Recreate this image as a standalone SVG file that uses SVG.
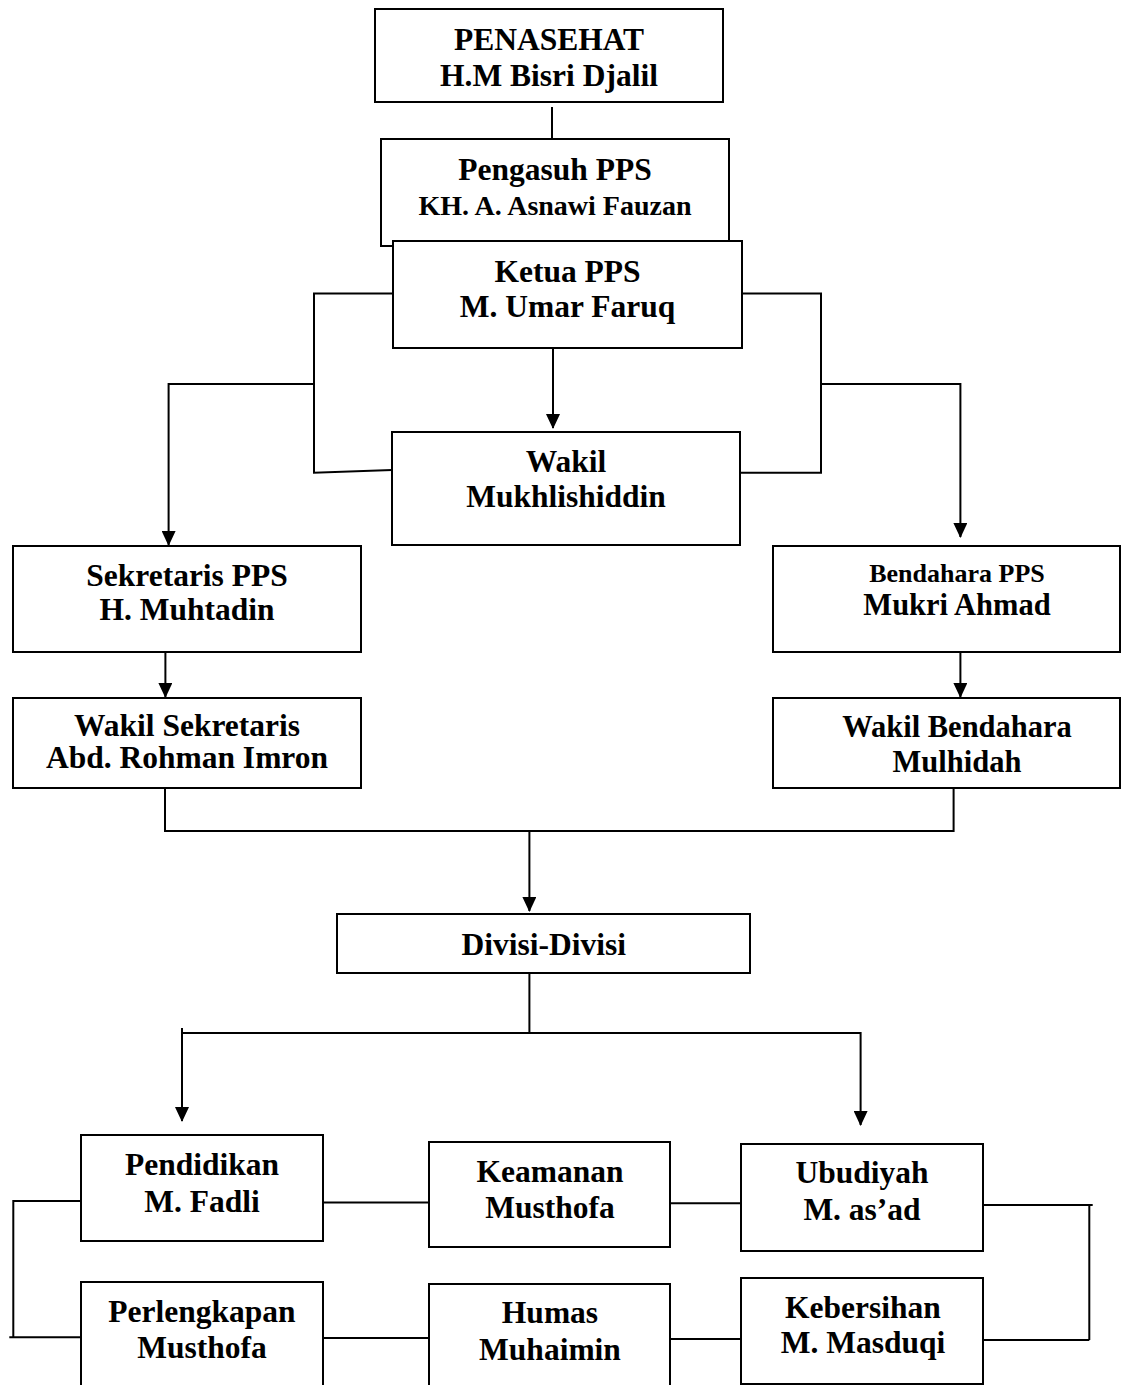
<svg xmlns="http://www.w3.org/2000/svg" width="1122" height="1385" viewBox="0 0 1122 1385">
<style>
.box{fill:#fff;stroke:#000;stroke-width:2}
.ln{fill:none;stroke:#000;stroke-width:2}
.arr{fill:none;stroke:#000;stroke-width:2;marker-end:url(#ah)}
text{font-family:"Liberation Serif","Times New Roman",serif;font-weight:bold;font-size:31.5px;text-anchor:middle;fill:#000}
</style>
<defs>
<marker id="ah" viewBox="0 0 15 14" refX="14" refY="7" markerWidth="15" markerHeight="14" markerUnits="userSpaceOnUse" orient="auto">
<path d="M0,0 L15,7 L0,14 z" fill="#000"/>
</marker>
</defs>
<rect width="1122" height="1385" fill="#fff"/>
<g id="connectors">
<path class="ln" d="M552,107 V139"/>
<path class="ln" d="M393,293.5 H314 V472.7 L392,470"/>
<path class="arr" d="M314,384 H168.6 V545"/>
<path class="ln" d="M742,293.5 H821 V472.7 H740"/>
<path class="arr" d="M821,384 H960.4 V537"/>
<path class="arr" d="M553,348 V428"/>
<path class="arr" d="M165.4,652 V697"/>
<path class="arr" d="M960.4,652 V697"/>
<path class="ln" d="M165,788 V831 H953.6 V788"/>
<path class="arr" d="M529.4,831 V911"/>
<path class="ln" d="M529.4,973 V1033"/>
<path class="arr" d="M182,1028 V1121"/>
<path class="arr" d="M182,1033 H860.6 V1125"/>
<path class="ln" d="M81,1201 H13.3 V1337.3"/>
<path class="ln" d="M9.3,1337.3 H81"/>
<path class="ln" d="M323,1202.5 H429"/>
<path class="ln" d="M670.5,1203.3 H741"/>
<path class="ln" d="M983,1205 H1092.7"/>
<path class="ln" d="M1089.3,1205 V1340"/>
<path class="ln" d="M983,1340 H1089.3"/>
<path class="ln" d="M323,1338 H429"/>
<path class="ln" d="M670,1339 H741"/>
</g>
<g id="penasehat">
<rect class="box" x="375" y="9" width="348" height="93"/>
<text x="549" y="50">PENASEHAT</text>
<text x="549" y="86">H.M Bisri Djalil</text>
</g>
<g id="pengasuh">
<rect class="box" x="381" y="139" width="348" height="107"/>
<text x="555" y="180">Pengasuh PPS</text>
<text x="555" y="215" style="font-size:28px">KH. A. Asnawi Fauzan</text>
</g>
<g id="ketua">
<rect class="box" x="393" y="241" width="349" height="107"/>
<text x="567.5" y="282">Ketua PPS</text>
<text x="567.5" y="317">M. Umar Faruq</text>
</g>
<g id="wakil">
<rect class="box" x="392" y="432" width="348" height="113"/>
<text x="566" y="472">Wakil</text>
<text x="566" y="507">Mukhlishiddin</text>
</g>
<g id="sekretaris">
<rect class="box" x="13" y="546" width="348" height="106"/>
<text x="187" y="586">Sekretaris PPS</text>
<text x="187" y="620">H. Muhtadin</text>
</g>
<g id="wakil-sekretaris">
<rect class="box" x="13" y="698" width="348" height="90"/>
<text x="187" y="736">Wakil Sekretaris</text>
<text x="187" y="768">Abd. Rohman Imron</text>
</g>
<g id="bendahara">
<rect class="box" x="773" y="546" width="347" height="106"/>
<text x="957" y="582" style="font-size:26px">Bendahara PPS</text>
<text x="957" y="615" style="font-size:30.5px">Mukri Ahmad</text>
</g>
<g id="wakil-bendahara">
<rect class="box" x="773" y="698" width="347" height="90"/>
<text x="957" y="737" style="font-size:30.5px">Wakil Bendahara</text>
<text x="957" y="772" style="font-size:30.5px">Mulhidah</text>
</g>
<g id="divisi">
<rect class="box" x="337" y="914" width="413" height="59"/>
<text x="543.7" y="955">Divisi-Divisi</text>
</g>
<g id="pendidikan">
<rect class="box" x="81" y="1135" width="242" height="106"/>
<text x="202" y="1175">Pendidikan</text>
<text x="202" y="1212">M. Fadli</text>
</g>
<g id="keamanan">
<rect class="box" x="429" y="1142" width="241" height="105"/>
<text x="550" y="1182">Keamanan</text>
<text x="550" y="1218">Musthofa</text>
</g>
<g id="ubudiyah">
<rect class="box" x="741" y="1144" width="242" height="107"/>
<text x="862" y="1183">Ubudiyah</text>
<text x="862" y="1220">M. as’ad</text>
</g>
<g id="perlengkapan">
<rect class="box" x="81" y="1282" width="242" height="120"/>
<text x="202" y="1322">Perlengkapan</text>
<text x="202" y="1358">Musthofa</text>
</g>
<g id="humas">
<rect class="box" x="429" y="1284" width="241" height="120"/>
<text x="550" y="1323">Humas</text>
<text x="550" y="1360">Muhaimin</text>
</g>
<g id="kebersihan">
<rect class="box" x="741" y="1278" width="242" height="106"/>
<text x="863" y="1318">Kebersihan</text>
<text x="863" y="1353">M. Masduqi</text>
</g>
</svg>
